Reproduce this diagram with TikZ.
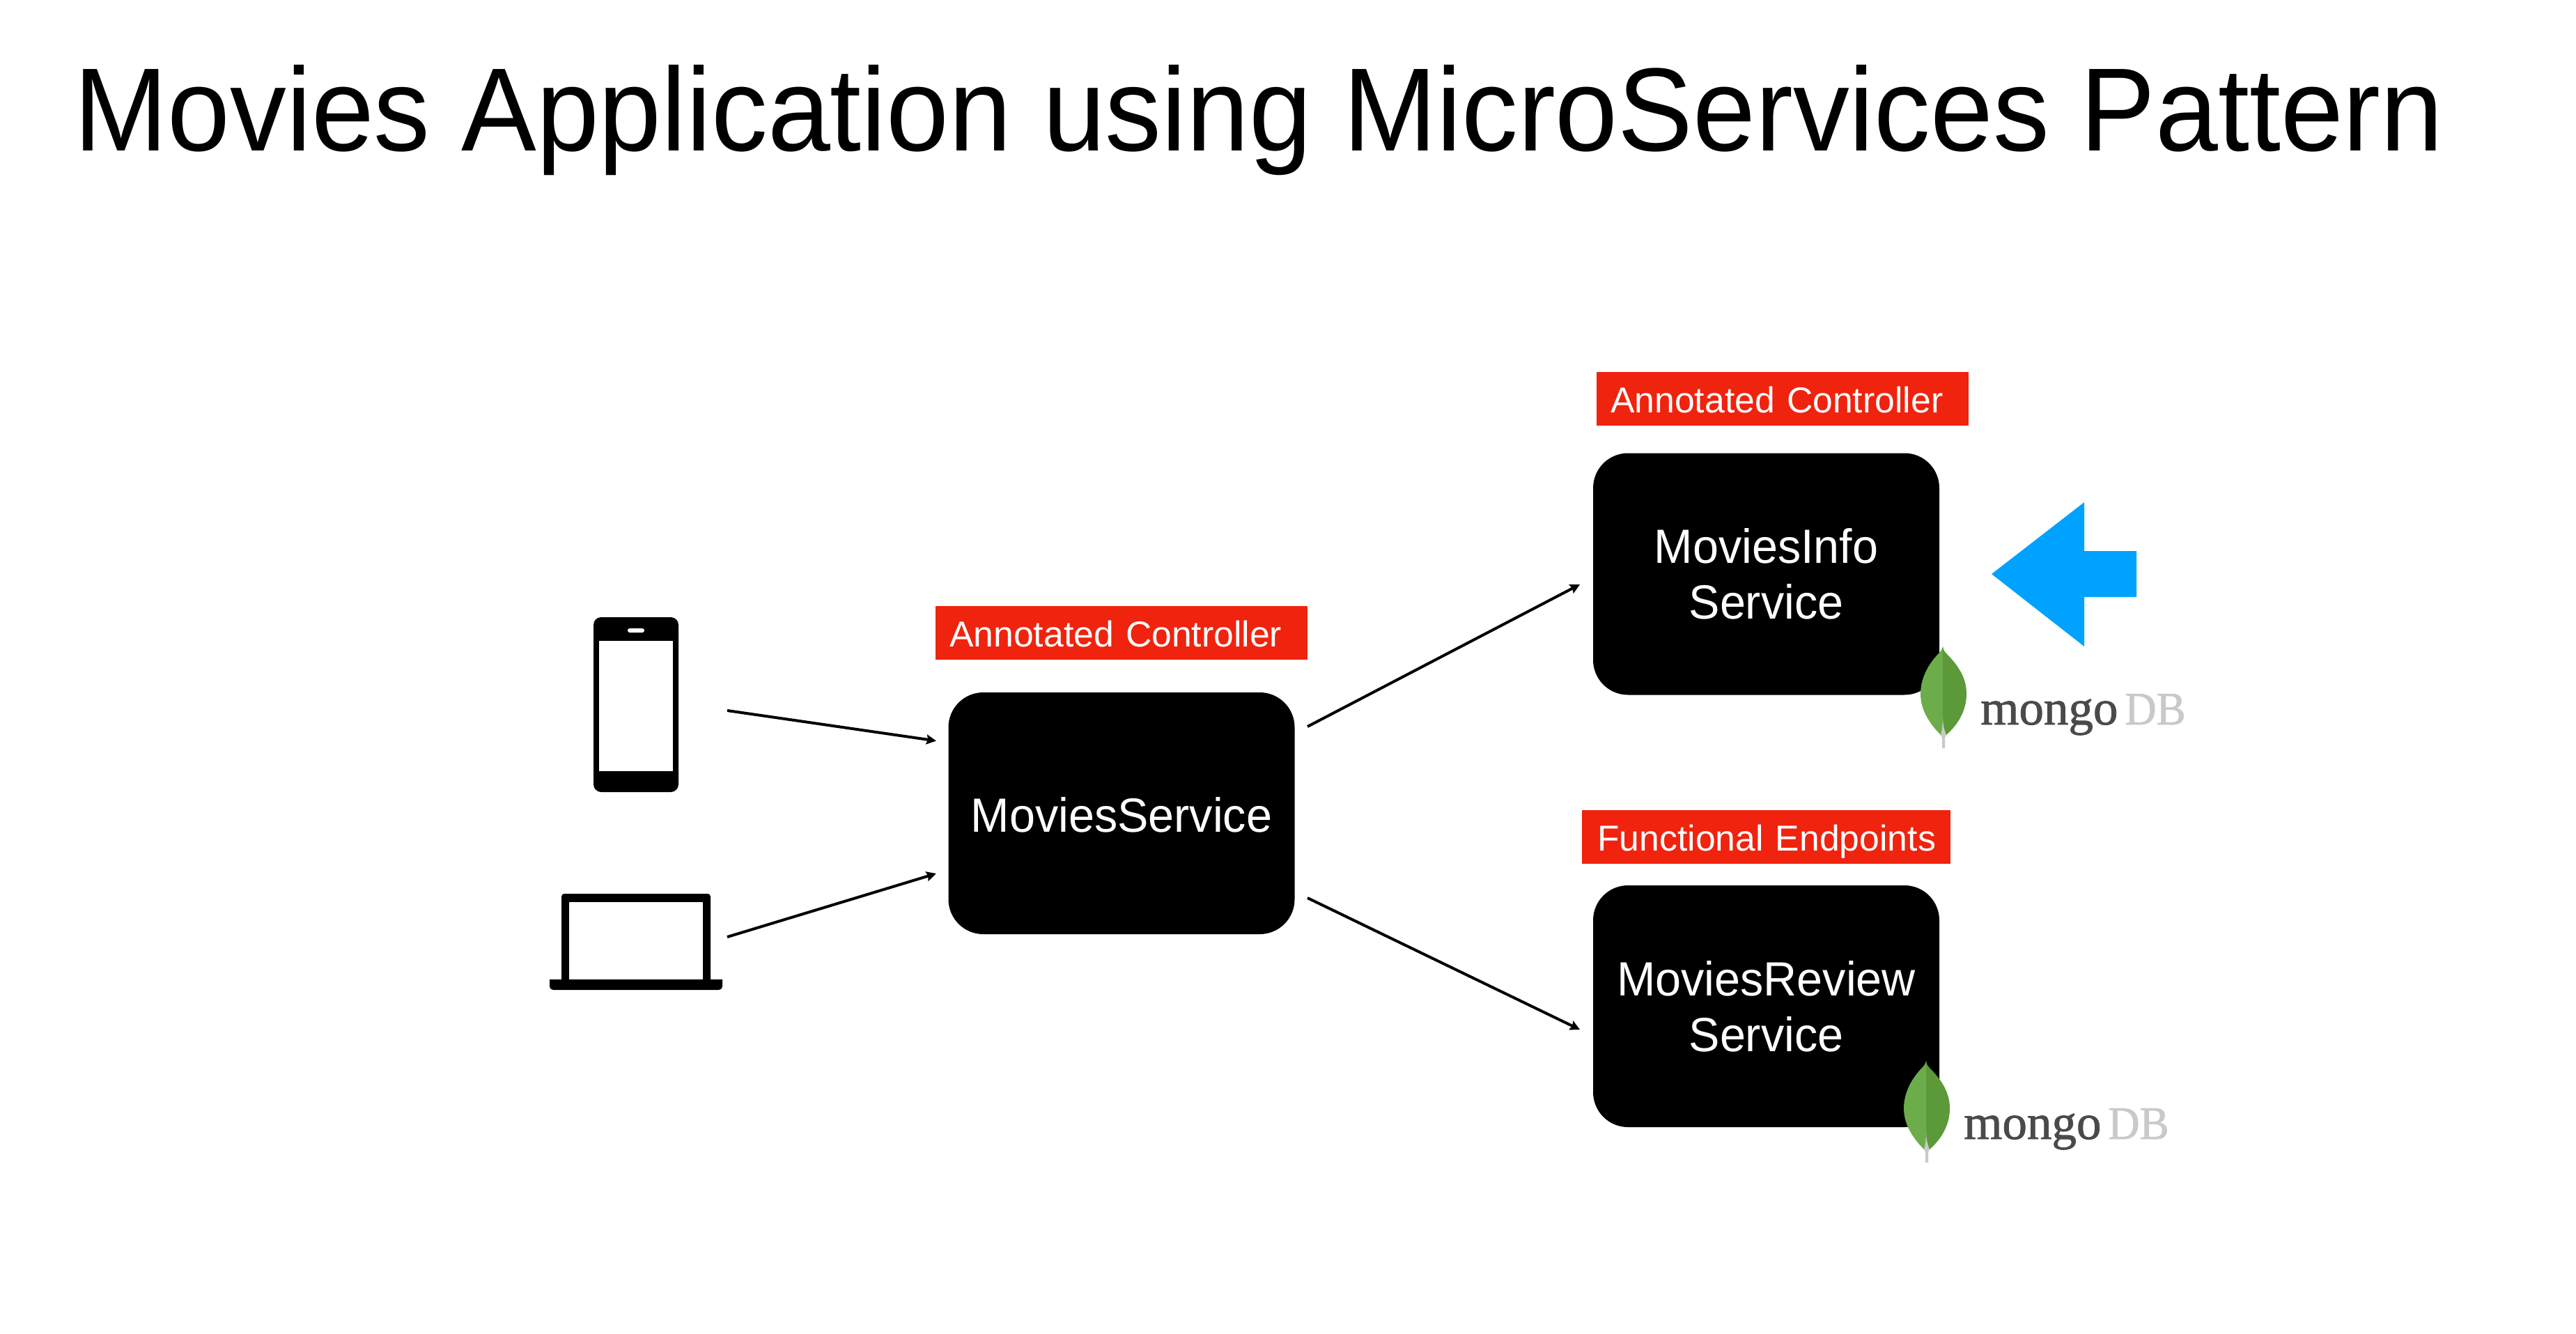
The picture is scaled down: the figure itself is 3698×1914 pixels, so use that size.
\documentclass[tikz,border=0pt]{standalone}
\usepackage{fontspec}
\setmainfont{Liberation Sans}
\newfontfamily\titlefont[FakeStretch=0.95]{Liberation Sans}
\newfontfamily\boxfont[FakeStretch=0.964]{Liberation Sans}
\newfontfamily\logoserif[FakeBold=1.2]{Liberation Serif}
\newfontfamily\logoserifb[FakeBold=1,FakeStretch=0.94]{Liberation Serif}
\usetikzlibrary{arrows.meta}
\definecolor{tagred}{HTML}{F0230E}
\definecolor{arrowblue}{HTML}{00A2FF}
\definecolor{leaflight}{HTML}{6CAC4A}
\definecolor{leafdark}{HTML}{5C9938}
\definecolor{leafstem}{HTML}{C9C9C9}
\definecolor{logodark}{HTML}{4A4A4D}
\definecolor{logolight}{HTML}{C9C9C9}
\tikzset{
  service/.style={fill=black,text=white,rounded corners=50pt,minimum width=497pt,minimum height=347pt,inner sep=0pt,align=center,font=\boxfont\fontsize{69}{80}\selectfont,execute at begin node={\rule{0pt}{54pt}}},
  redtag/.style={fill=tagred,text=white,anchor=north west,inner xsep=20pt,inner ysep=0pt,minimum height=77pt,text height=39pt,text depth=0pt,align=left,font=\fontsize{51.7}{60}\selectfont},
  flow/.style={draw=black,line width=4pt,-{Stealth[length=14pt,width=14pt,inset=2pt]}},
  mongotext/.style={inner sep=0pt,anchor=base west,text=logodark,font=\logoserif\fontsize{71}{71}\selectfont},
  dbtext/.style={inner sep=0pt,anchor=base west,text=logolight,font=\logoserifb\fontsize{67}{67}\selectfont}
}
\newcommand{\mongologo}[3]{%
  \begin{scope}[shift={(#1,#2)}]
    \fill[leaflight] (0,0) .. controls (-2,6) and (-3,7) .. (-5,9) .. controls (-20,24) and (-32,45) .. (-32,68) .. controls (-32,92) and (-18,112) .. (-2,128) -- (0,130) -- cycle;
    \fill[leafdark] (0,0) .. controls (1,6) and (3,8) .. (5,10) .. controls (22,27) and (34,45) .. (34,68) .. controls (34,92) and (22,112) .. (5,127) -- (0,130) -- cycle;
    \fill[leafstem] (0,100) .. controls (0,112) and (2,120) .. (5,127) -- (3,131) -- (3,146) -- (-1,146) -- (-1,131) -- (-3,127) .. controls (-1,120) and (0,112) .. (0,100) -- cycle;
    \node[mongotext] (mongo#3) at (54,112) {mongo};
    \node[dbtext] (db#3) at (261,112) {DB};
  \end{scope}}
\begin{document}
\begin{tikzpicture}[x=1pt,y=-1pt]
\useasboundingbox (0,0) rectangle (3698,1914);
\fill[white] (0,0) rectangle (3698,1914);
\node[anchor=base west,inner sep=0pt,font=\titlefont\fontsize{170}{171}\selectfont] (title) at (106,216) {Movies Application using MicroServices Pattern};
% phone
\node[fill=black,rounded corners=11pt,minimum width=122pt,minimum height=251pt,inner sep=0pt] (phone) at (913,1011.5) {};
\node[fill=white,minimum width=106pt,minimum height=187pt,inner sep=0pt] (screen) at (913,1013.5) {};
\node[fill=white,rounded corners=3pt,minimum width=24pt,minimum height=6pt,inner sep=0pt] (speaker) at (913,905) {};
% laptop
\node[fill=black,rounded corners=4pt,minimum width=214pt,minimum height=130pt,inner sep=0pt] (lid) at (913,1348) {};
\node[fill=white,minimum width=192pt,minimum height=111pt,inner sep=0pt] (lcd) at (913,1350.5) {};
\fill[black,rounded corners=5pt] (789,1406) -- (789,1421) -- (1037,1421) [sharp corners] -- (1037,1406) -- cycle;
% services
\node[service] (svc) at (1610,1167.5) {MoviesService};
\node[service] (info) at (2535.5,824) {MoviesInfo\\Service};
\node[service] (review) at (2535.5,1444.5) {MoviesReview\\Service};
% tags
\node[redtag,text width=494pt] (tag1) at (1343,870) {\mbox{Annotated Controller}};
\node[redtag,text width=494pt] (tag2) at (2292,534) {\mbox{Annotated Controller}};
\node[redtag,inner xsep=22pt,text width=485pt] (tag3) at (2271,1163) {\mbox{Functional Endpoints}};
% connectors
\coordinate (phoneout) at (1044,1020);
\coordinate (svcinA) at (1344,1063.5);
\coordinate (laptopout) at (1044,1345);
\coordinate (svcinB) at (1344,1254);
\coordinate (svcoutA) at (1877,1043);
\coordinate (infoin) at (2268,839);
\coordinate (svcoutB) at (1877,1289);
\coordinate (reviewin) at (2268,1478);
\draw[flow] (phoneout) -- (svcinA);
\draw[flow] (laptopout) -- (svcinB);
\draw[flow] (svcoutA) -- (infoin);
\draw[flow] (svcoutB) -- (reviewin);
% blue arrow
\fill[arrowblue] (2859,824) -- (2992,721) -- (2992,791) -- (3067,791) -- (3067,857) -- (2992,857) -- (2992,928) -- cycle;
% logos
\mongologo{2789}{928}{A}
\mongologo{2765}{1523}{B}
\end{tikzpicture}
\end{document}
